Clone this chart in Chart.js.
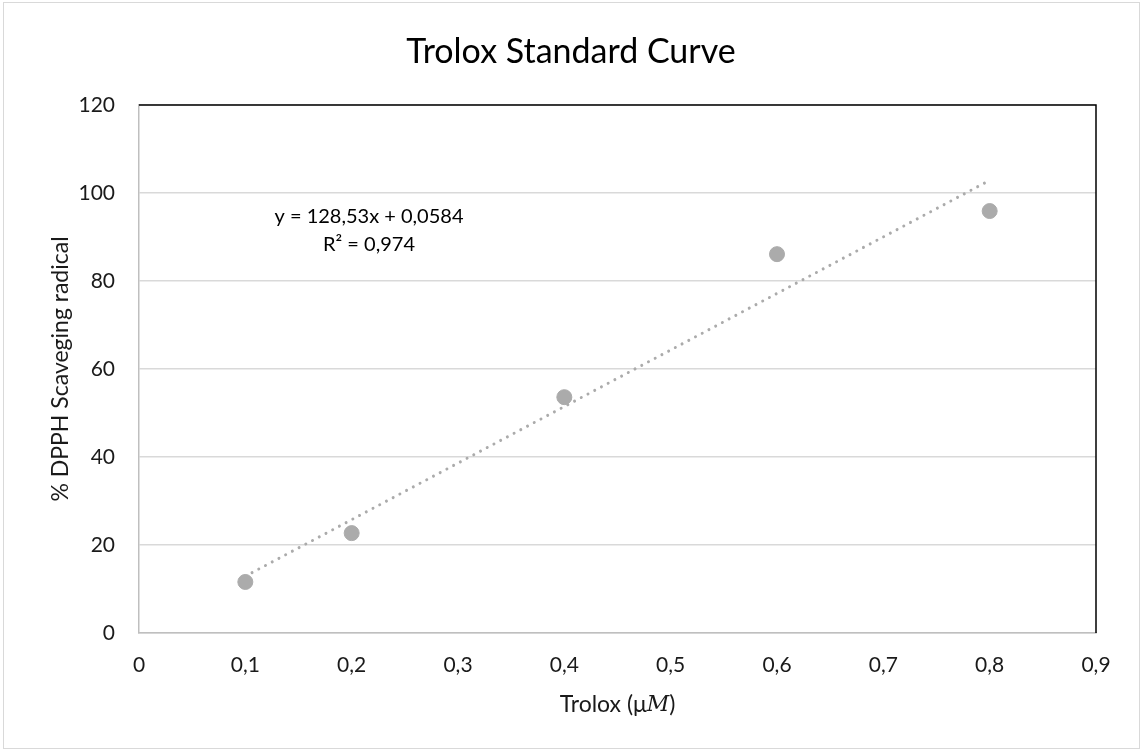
<!DOCTYPE html>
<html>
<head>
<meta charset="utf-8">
<script src="https://cdn.jsdelivr.net/npm/chart.js@4.4.1/dist/chart.umd.min.js"></script>
<style>
  html, body { margin: 0; padding: 0; background: #fff; }
  #wrap { width: 1141px; height: 749px; position: relative; }
</style>
</head>
<body>
<div id="wrap"><canvas id="c" width="1141" height="749"></canvas></div>
<script>
// Data
const troloxX = [0.1, 0.2, 0.4, 0.6, 0.8];
const scavenging = [11.6, 22.7, 53.6, 86.1, 95.9];
const trendX = [0.1, 0.8];
const trendY = [12.91, 102.88];
const xTickLabels = ['0', '0,1', '0,2', '0,3', '0,4', '0,5', '0,6', '0,7', '0,8', '0,9'];
const yTickLabels = ['0', '20', '40', '60', '80', '100', '120'];
const chartTitle = 'Trolox Standard Curve';
const xTitle = 'Trolox (μ';
const xTitleItalic = 'M';
const yTitle = '% DPPH Scaveging radical';
const equationLines = ['y = 128,53x + 0,0584', 'R² = 0,974'];

const FONT = 'Lato, "Open Sans", sans-serif';
const TXT = '#1a1a1a';

const decor = {
  id: 'decor',
  afterDraw(chart) {
    const ctx = chart.ctx;
    const a = chart.chartArea;
    ctx.save();
    // outer frame
    ctx.strokeStyle = '#d9d9d9';
    ctx.lineWidth = 1;
    ctx.strokeRect(3.5, 2.5, 1136, 746);
    // top and right plot border (black)
    ctx.strokeStyle = '#000';
    ctx.lineWidth = 1.5;
    ctx.beginPath();
    ctx.moveTo(a.left, a.top);
    ctx.lineTo(a.right, a.top);
    ctx.lineTo(a.right, a.bottom);
    ctx.stroke();
    // title
    ctx.fillStyle = '#000';
    ctx.textAlign = 'center';
    ctx.textBaseline = 'middle';
    ctx.font = '34px ' + FONT;
    ctx.fillText(chartTitle, 571, 52);
    // x title
    ctx.fillStyle = TXT;
    const xf = '23px ' + FONT;
    const xfi = 'italic 22px "DejaVu Serif", serif';
    ctx.font = xf;
    const w1 = ctx.measureText(xTitle).width;
    ctx.font = xfi;
    const w2 = ctx.measureText(xTitleItalic).width;
    ctx.font = xf;
    const w3 = ctx.measureText(')').width;
    const cx = (a.left + a.right) / 2;
    let sx = cx - (w1 + w2 + w3) / 2;
    ctx.textAlign = 'left';
    ctx.fillText(xTitle, sx, 705);
    ctx.font = xfi;
    ctx.fillText(xTitleItalic, sx + w1, 705);
    ctx.font = xf;
    ctx.fillText(')', sx + w1 + w2, 705);
    // y title
    ctx.save();
    ctx.translate(61, (a.top + a.bottom) / 2);
    ctx.rotate(-Math.PI / 2);
    ctx.textAlign = 'center';
    ctx.font = '23px ' + FONT;
    ctx.fillText(yTitle, 0, 0);
    ctx.restore();
    // equation
    ctx.textAlign = 'center';
    ctx.font = '20px ' + FONT;
    ctx.fillStyle = '#000';
    ctx.fillText(equationLines[0], 369, 217);
    ctx.fillText(equationLines[1], 369, 245);
    ctx.restore();
  }
};

new Chart(document.getElementById('c'), {
  type: 'scatter',
  data: {
    datasets: [
      {
        label: 'Trendline',
        type: 'line',
        data: trendX.map((x, i) => ({ x, y: trendY[i] })),
        borderColor: '#ababab',
        borderWidth: 3,
        borderDash: [0.01, 7.6],
        borderCapStyle: 'round',
        pointRadius: 0,
        fill: false,
        order: 2
      },
      {
        label: 'Trolox',
        data: troloxX.map((x, i) => ({ x, y: scavenging[i] })),
        backgroundColor: '#ababab',
        borderColor: '#ababab',
        pointRadius: 7.5,
        pointHoverRadius: 7.5,
        order: 1
      }
    ]
  },
  options: {
    responsive: false,
    animation: false,
    devicePixelRatio: 1,
    layout: { padding: { left: 0, top: 105, right: 45, bottom: 0 } },
    plugins: {
      legend: { display: false },
      title: { display: false },
      tooltip: { enabled: false }
    },
    scales: {
      x: {
        type: 'linear',
        min: 0, max: 0.9,
        afterFit: s => { s.height = 116; },
        afterBuildTicks: s => { s.ticks = xTickLabels.map((t, i) => ({ value: i / 10 })); },
        ticks: {
          stepSize: 0.1,
          callback: (v, i) => xTickLabels[i],
          color: TXT,
          font: { family: FONT, size: 21 },
          padding: 20,
          maxRotation: 0
        },
        grid: { display: false, drawTicks: false },
        border: { display: true, color: '#bfbfbf', width: 1.5 }
      },
      y: {
        min: 0, max: 120,
        afterFit: s => { s.width = 139; },
        ticks: {
          stepSize: 20,
          callback: (v, i) => yTickLabels[i],
          color: TXT,
          font: { family: FONT, size: 21 },
          padding: 24
        },
        grid: { color: '#d9d9d9', lineWidth: 1.5, drawTicks: false },
        border: { display: true, color: '#bfbfbf', width: 1.5 }
      }
    }
  },
  plugins: [decor]
});
</script>
</body>
</html>
